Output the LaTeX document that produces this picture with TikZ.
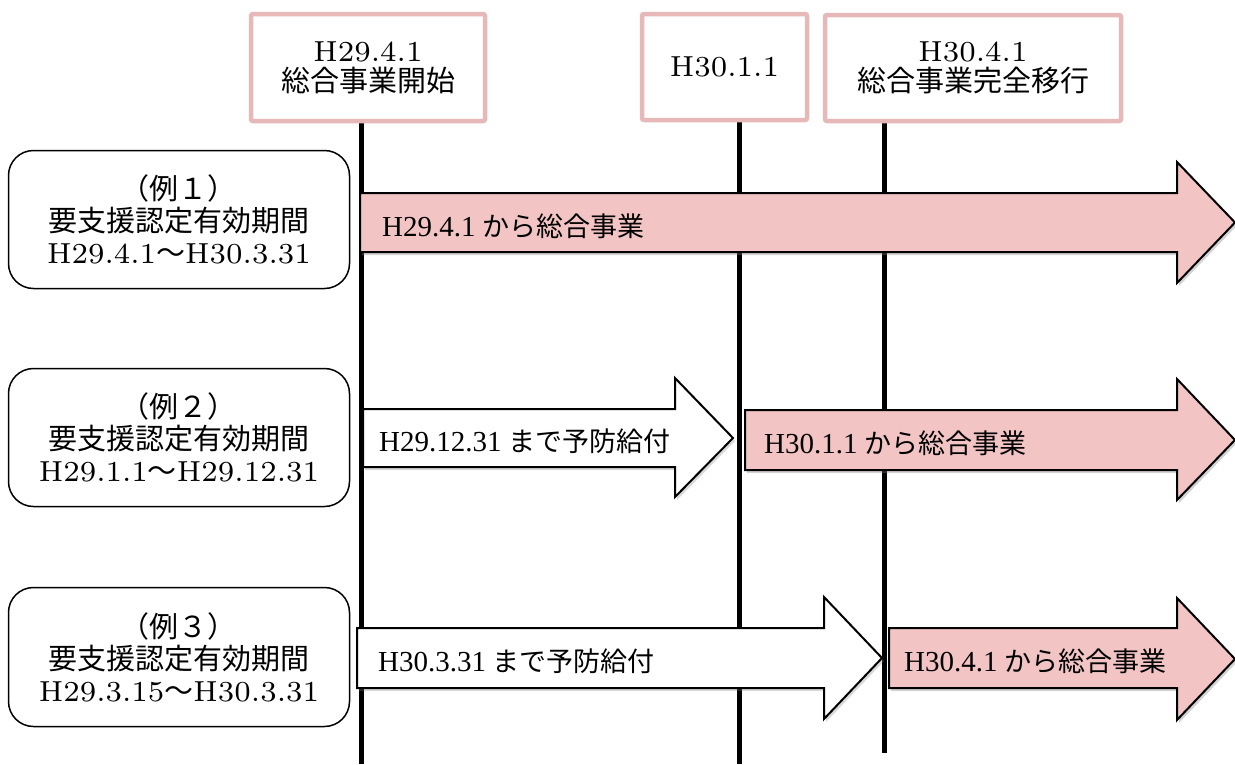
\documentclass[tikz,border=0pt]{standalone}
\usepackage{fontspec}
\setmainfont{Liberation Serif}
\newfontfamily\cjk{Noto Sans CJK JP}
\newfontfamily\cent{lmroman7-regular.otf}
\usetikzlibrary{shadows}
\definecolor{boxpink}{RGB}{230,185,184}
\definecolor{arrowpink}{RGB}{243,196,196}
\newcommand\arrlat[1]{{\fontsize{29}{30}\selectfont #1}}
\tikzset{
  datebox/.style={draw=boxpink, line width=4.5pt, rounded corners=2pt, fill=white,
    inner sep=0pt, align=center, font=\fontsize{29}{30}\selectfont},
  casebox/.style={draw=black, line width=1.5pt, rounded corners=25pt, fill=white,
    inner sep=0pt, align=center, minimum width=341pt, font=\fontsize{29}{32}\selectfont},
  timeline/.style={line width=5pt, black},
  pinkarrow/.style={draw=black, line width=2pt, fill=arrowpink, line join=miter,
    drop shadow={shadow xshift=2pt, shadow yshift=-3pt, opacity=0.35, fill=gray}},
  whitearrow/.style={draw=black, line width=2pt, fill=white, line join=miter,
    drop shadow={shadow xshift=2pt, shadow yshift=-3pt, opacity=0.3, fill=gray}},
  arrowlabel/.style={anchor=base west, inner sep=0pt, font=\fontsize{27}{30}\selectfont}
}
\begin{document}
\begin{tikzpicture}[x=1pt,y=-1pt]
\useasboundingbox (0,0) rectangle (1235,764);

% timeline end points
\coordinate (l1t) at (361,123); \coordinate (l1b) at (361,764);
\coordinate (l2t) at (739,122); \coordinate (l2b) at (739,764);
\coordinate (l3t) at (884,123); \coordinate (l3b) at (884,753);
\draw[timeline] (l1t) -- (l1b);
\draw[timeline] (l2t) -- (l2b);
\draw[timeline] (l3t) -- (l3b);

% case boxes
\node[casebox, minimum height=138pt] (caseA) at (179,219.5)
  {{\cjk （例１）}\\{\cjk 要支援認定有効期間}\\{\cent H29.4.1}{\cjk ～}{\cent H30.3.31}};
\node[casebox, minimum height=138pt] (caseB) at (179,437.5)
  {{\cjk （例２）}\\{\cjk 要支援認定有効期間}\\{\cent H29.1.1}{\cjk ～}{\cent H29.12.31}};
\node[casebox, minimum height=139pt] (caseC) at (179,657)
  {{\cjk （例３）}\\{\cjk 要支援認定有効期間}\\{\cent H29.3.15}{\cjk ～}{\cent H30.3.31}};

% row 1
\draw[pinkarrow] (360,193) -- (1177,193) -- (1177,162) -- (1235,222.5) -- (1177,283) -- (1177,252) -- (360,252) -- cycle;
\node[arrowlabel] (r1p) at (382,236) {\arrlat{H29.4.1} {\cjk から総合事業}};

% row 2
\draw[whitearrow] (363,409) -- (675,409) -- (675,378) -- (733,438) -- (675,497) -- (675,467) -- (363,467) -- cycle;
\node[arrowlabel] (r2w) at (379,451) {\arrlat{H29.12.31} {\cjk まで予防給付}};
\draw[pinkarrow] (745,410) -- (1177,410) -- (1177,379) -- (1235,440) -- (1177,500) -- (1177,470) -- (745,470) -- cycle;
\node[arrowlabel] (r2p) at (764,453) {\arrlat{H30.1.1} {\cjk から総合事業}};

% row 3
\draw[whitearrow] (357,628) -- (824,628) -- (824,597) -- (882,658) -- (824,719) -- (824,688) -- (357,688) -- cycle;
\node[arrowlabel] (r3w) at (378,671) {\arrlat{H30.3.31} {\cjk まで予防給付}};
\draw[pinkarrow] (889,628) -- (1177,628) -- (1177,598) -- (1235,659) -- (1177,720) -- (1177,688) -- (889,688) -- cycle;
\node[arrowlabel] (r3p) at (904,671) {\arrlat{H30.4.1} {\cjk から総合事業}};

% date boxes
\node[datebox, minimum width=234pt, minimum height=107pt] (d1) at (368,67.5)
  {{\cent H29.4.1}\\{\cjk 総合事業開始}};
\node[datebox, minimum width=165pt, minimum height=106pt] (d2) at (724.5,67)
  {{\cent H30.1.1}};
\node[datebox, minimum width=296pt, minimum height=106pt] (d3) at (973,68)
  {{\cent H30.4.1}\\{\cjk 総合事業完全移行}};
\end{tikzpicture}
\end{document}
